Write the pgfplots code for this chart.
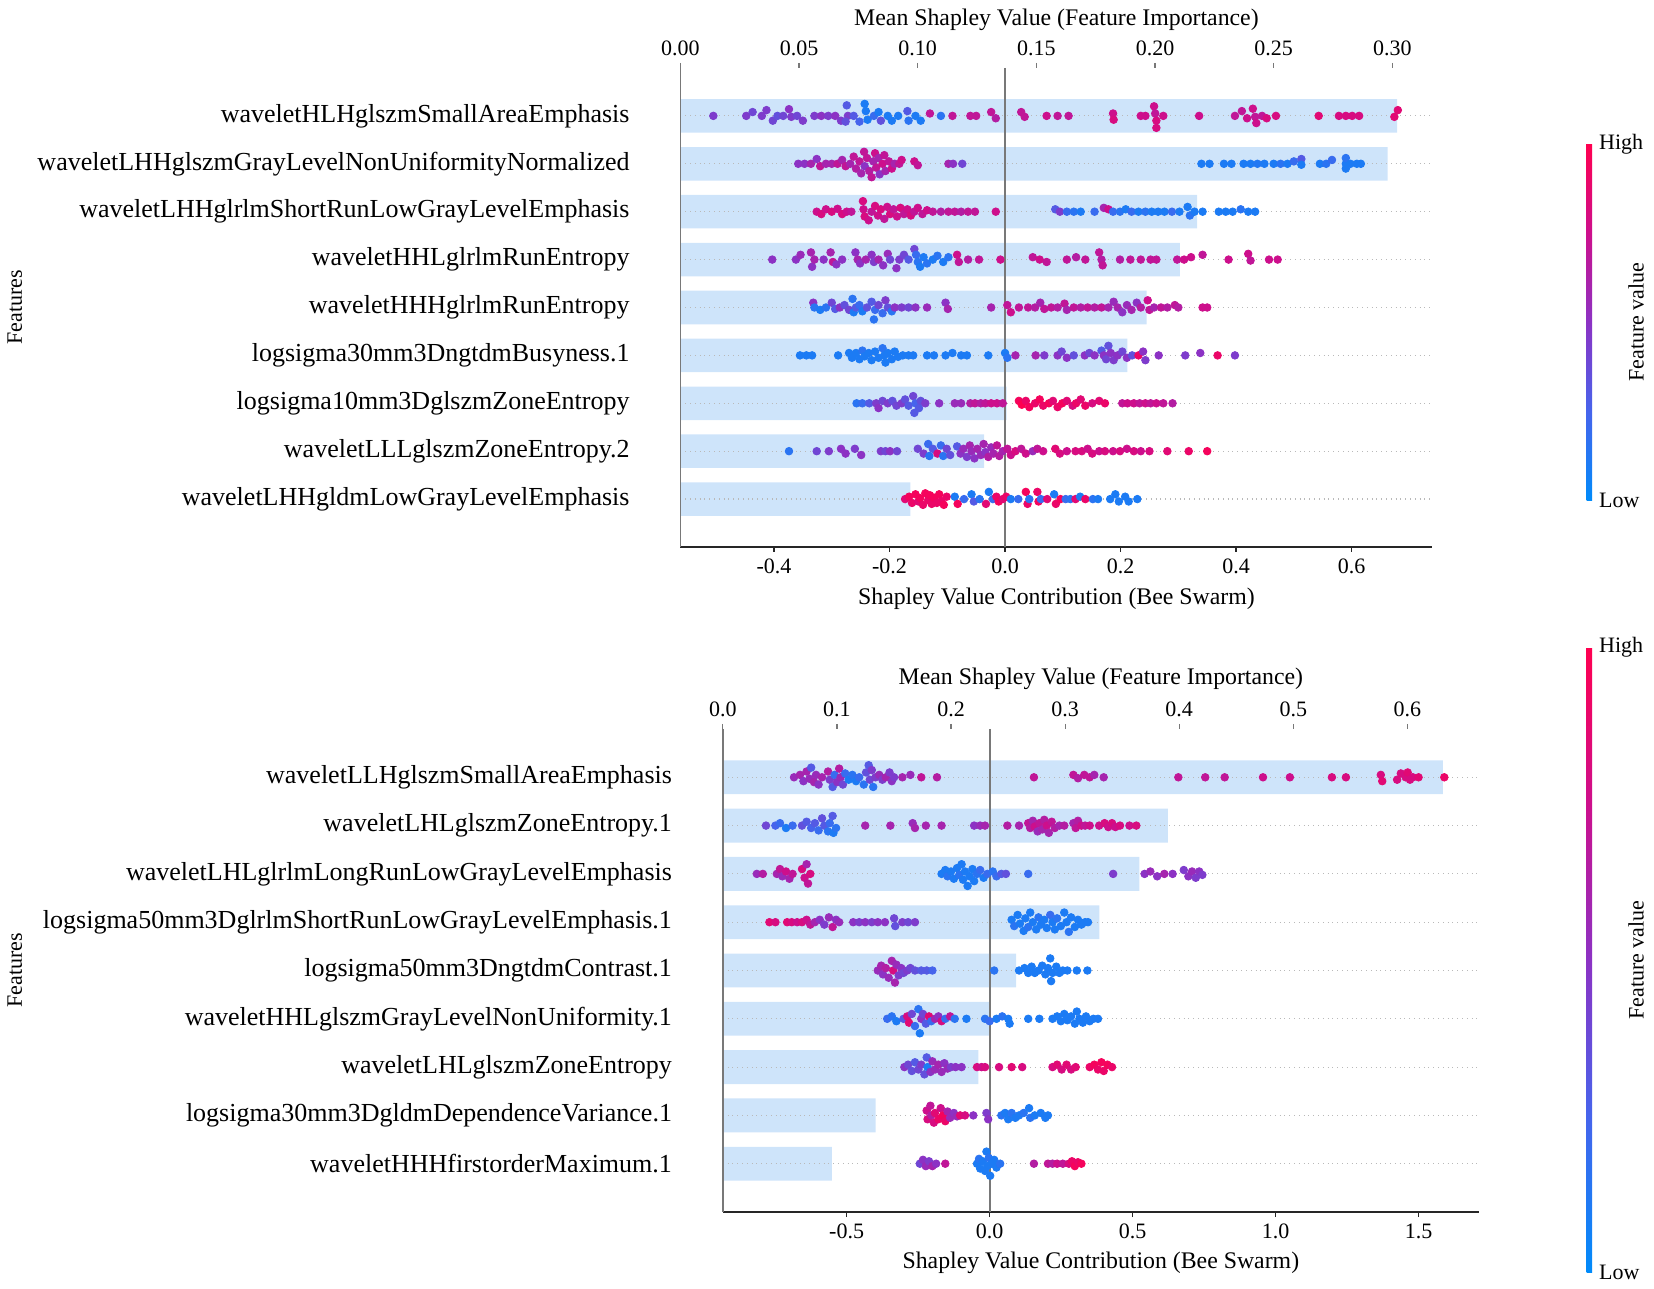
\documentclass[border=0pt]{standalone}
\usepackage{pgfplots}
\pgfplotsset{compat=1.18}
\usepackage{pgfplotstable}
\usepackage{fontspec}
\setmainfont{Liberation Serif}

\definecolor{barblue}{RGB}{206,228,250}
\definecolor{spinegray}{RGB}{120,120,120}
\definecolor{gridgray}{RGB}{185,185,185}
\newcommand{\ticksize}{\fontsize{11}{13}\selectfont}
\newcommand{\labsize}{\fontsize{11.9}{14}\selectfont}
\newcommand{\catsize}{\fontsize{13}{15}\selectfont}

\pgfplotsset{
  colormap={shap}{rgb255(0)=(0,139,250) rgb255(0.25)=(70,100,236) rgb255(0.5)=(140,50,196) rgb255(0.75)=(205,15,140) rgb255(1)=(255,0,80)},
  /pgf/number format/assume math mode=true,
  barax/.style={scale only axis, ymin=0, ymax=10, y dir=reverse,
    axis x line*=top, axis y line=none, x axis line style={draw=none},
    xtick style={spinegray, line width=0.6pt}, tick align=outside, major tick length=2.5pt,
    ytick=\empty, xticklabel style={font=\ticksize},
    xlabel style={at={(axis description cs:0.5,1)}, anchor=center, font=\labsize}},
  swarmax/.style={scale only axis, ymin=0, ymax=10, y dir=reverse,
    axis x line*=bottom, axis y line*=left,
    x axis line style={black!85, line width=1pt, -},
    y axis line style={spinegray, line width=0.9pt, -},
    ytick={1,2,3,4,5,6,7,8,9}, ytick style={draw=none},
    xtick style={black!85, line width=0.7pt}, tick align=outside, major tick length=2.5pt,
    xticklabel style={font=\ticksize},
    yticklabel style={font=\catsize, xshift=-19.4pt},
    ymajorgrids, grid style={gridgray, dotted, line width=0.6pt},
    xlabel style={at={(axis description cs:0.5,0)}, anchor=center, font=\labsize},
    point meta min=0, point meta max=1, colormap name=shap},
  dots/.style={scatter, only marks, mark=*, mark size=1.9pt, scatter src=explicit,
    scatter/use mapped color={draw=mapped color, fill=mapped color}},
}

\pgfplotstableread[row sep=\\]{
x y c\\
-0.505 1 .45\\ -0.448 1 .45\\ -0.437 0.92 .4\\ -0.421 1 .45\\ -0.413 0.88 .45\\ -0.402 1.1 .4\\ -0.394 1 .35\\ -0.384 1 .4\\ -0.374 0.86 .5\\ -0.37 1.02 .45\\ -0.36 1 .4\\ -0.35 1.1 .45\\ -0.33 1 .45\\ -0.318 1 .5\\ -0.306 1 .45\\ -0.294 1 .5\\ -0.284 1.1 .45\\ -0.274 0.78 .3\\ -0.272 1 .45\\ -0.276 1.12 .35\\ -0.262 1 .3\\ -0.252 1.12 .25\\ -0.243 0.75 .1\\ -0.241 0.9 .1\\ -0.238 1.08 .1\\ -0.227 1 .2\\ -0.219 0.92 .1\\ -0.215 1.1 .35\\ -0.203 1 .1\\ -0.196 1.1 .1\\ -0.185 1 .1\\ -0.169 0.9 .3\\ -0.167 1.1 .15\\ -0.155 1 .1\\ -0.146 1.1 .1\\ -0.13 0.95 .7\\ -0.111 1 .15\\ -0.091 1 .7\\ -0.06 1 .7\\ -0.05 1 .7\\ -0.024 0.92 .7\\ -0.016 1.05 .65\\ 0.028 0.92 .7\\ 0.034 1.02 .7\\ 0.072 1 .75\\ 0.091 1 .7\\ 0.11 1 .7\\ 0.187 0.95 .75\\ 0.188 1.08 .8\\ 0.235 1 .75\\ 0.243 1 .75\\ 0.258 0.8 .75\\ 0.26 0.95 .7\\ 0.262 1.1 .8\\ 0.262 1.25 .8\\ 0.274 1 .75\\ 0.336 1 .75\\ 0.398 1 .7\\ 0.41 0.9 .7\\ 0.419 1.05 .75\\ 0.429 0.85 .75\\ 0.433 1.02 .7\\ 0.435 1.15 .75\\ 0.445 1 .7\\ 0.453 1.05 .8\\ 0.469 1 .8\\ 0.543 1 .85\\ 0.578 1 .8\\ 0.59 1 .8\\ 0.601 1 .8\\ 0.613 1 .8\\ 0.674 1.02 .85\\ 0.68 0.88 .85\\
-0.358 2 .5\\ -0.347 2 .5\\ -0.336 2 .6\\ -0.326 1.9 .5\\ -0.32 2.05 .7\\ -0.31 2 .6\\ -0.3 2 .6\\ -0.29 2 .7\\ -0.282 1.92 .6\\ -0.276 2.05 .7\\ -0.268 2 .6\\ -0.262 1.85 .7\\ -0.258 2.1 .65\\ -0.252 1.95 .7\\ -0.249 2.2 .6\\ -0.244 1.75 .7\\ -0.243 2.05 .5\\ -0.239 1.88 .7\\ -0.235 2.15 .65\\ -0.231 2.28 .7\\ -0.228 1.95 .6\\ -0.225 1.78 .75\\ -0.223 2.08 .7\\ -0.219 1.88 .6\\ -0.217 2.22 .5\\ -0.212 2 .75\\ -0.209 1.82 .7\\ -0.207 2.15 .6\\ -0.201 1.95 .7\\ -0.196 2.1 .75\\ -0.191 2 .6\\ -0.183 2 .7\\ -0.179 1.92 .75\\ -0.157 1.95 .75\\ -0.151 2.03 .7\\ -0.098 2 .6\\ -0.09 2 .5\\ -0.074 2 .4\\ 0.34 2 .1\\ 0.354 2 .1\\ 0.379 2 .1\\ 0.392 2 .1\\ 0.413 2 .1\\ 0.425 2 .1\\ 0.437 2 .12\\ 0.449 2 .1\\ 0.465 2 .1\\ 0.477 2 .15\\ 0.489 2 .1\\ 0.5 1.95 .2\\ 0.513 1.9 .3\\ 0.513 2.02 .1\\ 0.545 2 .1\\ 0.556 2 .15\\ 0.566 1.92 .2\\ 0.59 2 .1\\ 0.59 1.88 .15\\ 0.59 2.1 .1\\ 0.598 2 .1\\ 0.609 2 .1\\ 0.616 2 .1\\
-0.326 3 .75\\ -0.318 3.05 .8\\ -0.31 2.95 .75\\ -0.3 3 .8\\ -0.29 2.94 .75\\ -0.282 3.05 .8\\ -0.274 3 .75\\ -0.266 3 .7\\ -0.246 2.78 .8\\ -0.245 2.95 .75\\ -0.243 3.1 .8\\ -0.236 3.18 .75\\ -0.231 3 .7\\ -0.225 2.88 .8\\ -0.22 3.08 .75\\ -0.215 2.95 .8\\ -0.209 3.15 .7\\ -0.204 2.9 .75\\ -0.199 3.05 .8\\ -0.193 2.95 .7\\ -0.187 3.1 .75\\ -0.181 2.92 .8\\ -0.175 3.05 .7\\ -0.169 2.95 .75\\ -0.163 3.08 .8\\ -0.157 3 .7\\ -0.151 2.92 .75\\ -0.143 3.05 .7\\ -0.135 2.97 .75\\ -0.125 3 .7\\ -0.111 3 .65\\ -0.098 3 .7\\ -0.087 3 .7\\ -0.076 3 .65\\ -0.064 3 .7\\ -0.052 3 .7\\ -0.016 3 .75\\ 0.087 2.95 .3\\ 0.095 3 .45\\ 0.107 3 .2\\ 0.119 3 .15\\ 0.131 3 .1\\ 0.155 3 .2\\ 0.171 2.92 .6\\ 0.179 2.95 .75\\ 0.187 3 .2\\ 0.199 3 .15\\ 0.209 2.95 .1\\ 0.219 3 .2\\ 0.231 3 .1\\ 0.243 3 .15\\ 0.254 3 .1\\ 0.265 3 .1\\ 0.276 3 .1\\ 0.289 3 .2\\ 0.302 3 .1\\ 0.316 2.9 .1\\ 0.32 3.08 .15\\ 0.328 3 .1\\ 0.342 3 .1\\ 0.37 3 .1\\ 0.382 3 .1\\ 0.394 3 .1\\ 0.408 2.95 .15\\ 0.421 3 .1\\ 0.433 3 .1\\
-0.403 4 .5\\ -0.362 4 .5\\ -0.354 3.9 .55\\ -0.336 3.85 .6\\ -0.334 4.15 .5\\ -0.33 4 .6\\ -0.314 4 .5\\ -0.302 3.85 .6\\ -0.298 4.05 .7\\ -0.292 4.1 .5\\ -0.282 4 .5\\ -0.259 3.85 .5\\ -0.255 4 .6\\ -0.251 4.08 .5\\ -0.241 4 .6\\ -0.231 3.9 .5\\ -0.227 4.05 .45\\ -0.219 4 .6\\ -0.211 4.12 .5\\ -0.203 3.88 .55\\ -0.199 4 .4\\ -0.188 4.18 .5\\ -0.183 4 .45\\ -0.175 3.9 .4\\ -0.167 4 .3\\ -0.157 3.78 .4\\ -0.154 3.9 .2\\ -0.151 4.05 .15\\ -0.147 4.15 .1\\ -0.141 3.95 .1\\ -0.135 4.08 .15\\ -0.125 4 .1\\ -0.117 3.92 .15\\ -0.107 4.05 .1\\ -0.098 3.95 .15\\ -0.083 3.9 .75\\ -0.08 4.05 .7\\ -0.064 4 .65\\ -0.045 4 .7\\ -0.008 4 .75\\ 0.048 3.95 .7\\ 0.06 4 .75\\ 0.072 4.05 .7\\ 0.107 4 .7\\ 0.123 3.95 .65\\ 0.139 4 .7\\ 0.163 3.85 .7\\ 0.167 4 .65\\ 0.169 4.12 .7\\ 0.199 4 .65\\ 0.217 4 .7\\ 0.235 4 .7\\ 0.252 4 .7\\ 0.262 4 .7\\ 0.298 4 .7\\ 0.31 4 .75\\ 0.322 3.95 .75\\ 0.342 3.9 .7\\ 0.387 4 .75\\ 0.421 3.88 .75\\ 0.425 4.02 .7\\ 0.457 4 .75\\ 0.472 4 .75\\
-0.332 4.9 .5\\ -0.33 5 .15\\ -0.32 5.05 .1\\ -0.31 5 .15\\ -0.3 4.9 .4\\ -0.294 5.03 .3\\ -0.286 5 .5\\ -0.278 4.95 .35\\ -0.27 5.05 .4\\ -0.264 4.82 .15\\ -0.262 5.1 .1\\ -0.258 5 .3\\ -0.252 4.95 .2\\ -0.247 5.08 .1\\ -0.239 5 .35\\ -0.231 4.88 .3\\ -0.227 5.25 .15\\ -0.225 5.05 .2\\ -0.219 4.95 .4\\ -0.212 5.12 .2\\ -0.207 4.85 .45\\ -0.203 5 .35\\ -0.196 5.08 .15\\ -0.191 5 .5\\ -0.179 5 .45\\ -0.167 5 .4\\ -0.155 5 .5\\ -0.135 5 .55\\ -0.103 4.9 .5\\ -0.099 5.03 .6\\ -0.024 5 .6\\ 0.004 4.95 .7\\ 0.01 5.1 .75\\ 0.024 5 .7\\ 0.04 5 .7\\ 0.052 5 .65\\ 0.061 4.9 .6\\ 0.068 5.03 .7\\ 0.08 5 .7\\ 0.091 5 .65\\ 0.103 4.92 .7\\ 0.107 5.05 .6\\ 0.119 5 .7\\ 0.131 5 .65\\ 0.143 5 .7\\ 0.155 5 .65\\ 0.167 5 .7\\ 0.179 5 .6\\ 0.188 4.88 .55\\ 0.195 5 .6\\ 0.203 5.1 .5\\ 0.211 4.95 .55\\ 0.219 5.05 .6\\ 0.228 4.9 .5\\ 0.235 5 .65\\ 0.247 4.85 .75\\ 0.25 5.05 .7\\ 0.258 5 .6\\ 0.27 5 .7\\ 0.281 5 .65\\ 0.294 4.95 .7\\ 0.3 5 .65\\ 0.342 5 .75\\ 0.35 5 .75\\
-0.355 6 .1\\ -0.344 6 .1\\ -0.334 6 .1\\ -0.289 6 .1\\ -0.27 5.95 .1\\ -0.265 6.05 .1\\ -0.258 5.95 .1\\ -0.252 6.08 .1\\ -0.247 5.9 .15\\ -0.243 6.02 .1\\ -0.236 5.95 .1\\ -0.231 6.1 .1\\ -0.225 5.92 .1\\ -0.219 6.05 .1\\ -0.212 5.85 .15\\ -0.209 6 .1\\ -0.207 6.15 .1\\ -0.203 5.95 .1\\ -0.196 6.08 .1\\ -0.191 5.92 .1\\ -0.185 6.03 .1\\ -0.177 6 .1\\ -0.167 6 .1\\ -0.159 6 .1\\ -0.135 6 .1\\ -0.123 6 .1\\ -0.103 6 .1\\ -0.091 5.95 .1\\ -0.076 6 .1\\ -0.066 6 .1\\ -0.029 6 .1\\ 0 5.95 .1\\ 0.004 6.05 .15\\ 0.018 6 .6\\ 0.053 6 .6\\ 0.068 6 .45\\ 0.091 6 .5\\ 0.098 5.92 .4\\ 0.107 6.05 .5\\ 0.119 6 .35\\ 0.138 6 .5\\ 0.146 5.95 .4\\ 0.155 6 .5\\ 0.167 5.9 .3\\ 0.171 6 .5\\ 0.175 6.08 .4\\ 0.179 5.8 .35\\ 0.183 5.95 .5\\ 0.188 6.1 .45\\ 0.195 6 .5\\ 0.203 5.92 .4\\ 0.211 6.05 .5\\ 0.22 6 .35\\ 0.231 6 .9\\ 0.239 5.92 .5\\ 0.243 6.1 .45\\ 0.266 6 .5\\ 0.312 6 .45\\ 0.338 5.95 .5\\ 0.368 6 .9\\ 0.398 6 .45\\
-0.257 7 .15\\ -0.247 7 .2\\ -0.235 7 .3\\ -0.223 7 .45\\ -0.219 7.1 .5\\ -0.212 6.95 .4\\ -0.203 7 .45\\ -0.195 6.95 .35\\ -0.188 7.05 .4\\ -0.179 7 .45\\ -0.173 6.92 .35\\ -0.167 7.05 .3\\ -0.159 6.85 .4\\ -0.157 7.2 .3\\ -0.155 7 .25\\ -0.149 7.1 .3\\ -0.146 6.95 .35\\ -0.138 7 .45\\ -0.114 7 .5\\ -0.087 7 .55\\ -0.076 7 .55\\ -0.06 7 .65\\ -0.052 7 .7\\ -0.042 7 .65\\ -0.034 7 .7\\ -0.024 7 .75\\ -0.014 7 .75\\ -0.004 7 .7\\ 0.024 6.95 .95\\ 0.029 7.03 1\\ 0.036 6.95 .9\\ 0.042 7.08 .95\\ 0.052 7 .9\\ 0.06 6.92 .95\\ 0.066 7.05 .9\\ 0.076 7 .95\\ 0.083 6.95 .85\\ 0.091 7.08 .9\\ 0.099 7 .95\\ 0.107 6.95 .85\\ 0.117 7.05 .8\\ 0.123 7 .9\\ 0.131 6.92 .85\\ 0.139 7.05 .9\\ 0.151 7 .8\\ 0.163 6.95 .85\\ 0.173 7 .9\\ 0.203 7 .7\\ 0.212 7 .75\\ 0.223 7 .75\\ 0.233 7 .7\\ 0.243 7 .75\\ 0.252 7 .7\\ 0.262 7 .75\\ 0.274 7 .7\\ 0.29 7 .65\\
-0.374 8 .15\\ -0.326 8 .4\\ -0.305 8 .45\\ -0.284 7.95 .5\\ -0.276 8.05 .5\\ -0.26 7.95 .45\\ -0.249 8.08 .5\\ -0.215 8 .45\\ -0.207 8 .4\\ -0.199 8 .5\\ -0.187 8 .4\\ -0.151 7.95 .4\\ -0.141 8.05 .45\\ -0.133 7.85 .2\\ -0.131 8.1 .15\\ -0.125 7.95 .3\\ -0.117 8.05 .8\\ -0.111 7.88 .2\\ -0.107 8.1 .15\\ -0.101 7.95 .4\\ -0.095 8.08 .35\\ -0.083 7.9 .3\\ -0.077 8.05 .5\\ -0.072 7.95 .55\\ -0.066 8.12 .45\\ -0.061 7.88 .6\\ -0.058 8 .55\\ -0.053 8.15 .5\\ -0.048 7.95 .6\\ -0.042 8.08 .55\\ -0.037 7.85 .6\\ -0.034 8.02 .5\\ -0.029 8.12 .65\\ -0.024 7.92 .55\\ -0.02 8.05 .6\\ -0.014 7.88 .7\\ -0.01 8.1 .65\\ -0.004 8 .6\\ 0.004 7.95 .7\\ 0.01 8.08 .75\\ 0.018 8 .8\\ 0.028 7.95 .7\\ 0.036 8.05 .75\\ 0.048 8 .55\\ 0.056 7.95 .7\\ 0.066 8 .75\\ 0.087 7.95 .85\\ 0.095 8.05 .8\\ 0.107 8 .75\\ 0.122 8 .8\\ 0.133 8 .8\\ 0.143 7.95 .75\\ 0.151 8.05 .8\\ 0.163 8 .75\\ 0.173 8 .8\\ 0.187 8 .75\\ 0.199 8 .8\\ 0.211 7.95 .75\\ 0.223 8 .8\\ 0.235 8 .75\\ 0.25 8 .8\\ 0.281 8 .85\\ 0.318 8 .9\\ 0.35 8 .95\\
-0.173 9 .85\\ -0.166 8.95 .95\\ -0.161 9.08 .9\\ -0.155 8.9 .95\\ -0.15 9.05 .85\\ -0.147 8.98 .95\\ -0.142 9.12 .9\\ -0.138 8.88 .95\\ -0.133 9.02 .9\\ -0.13 8.92 .95\\ -0.127 9.1 .9\\ -0.123 8.97 .95\\ -0.118 9.08 .9\\ -0.114 8.9 .95\\ -0.11 9.04 .9\\ -0.106 9.12 .95\\ -0.101 8.95 .9\\ -0.087 8.95 .1\\ -0.082 9.1 .95\\ -0.071 9 .2\\ -0.058 8.9 .1\\ -0.054 9.05 .3\\ -0.044 9 .15\\ -0.033 9.1 .85\\ -0.028 8.85 .1\\ -0.021 9 .2\\ -0.015 8.95 .9\\ -0.011 9.05 .95\\ -0.004 9 .85\\ 0.002 8.95 .9\\ 0.01 9 .1\\ 0.023 9 .2\\ 0.036 8.85 .95\\ 0.039 9.1 .9\\ 0.042 9 .15\\ 0.056 8.85 .9\\ 0.058 9.05 .95\\ 0.062 9 .2\\ 0.073 9 .85\\ 0.085 8.9 .1\\ 0.088 9.1 .9\\ 0.096 9 .95\\ 0.105 9 .2\\ 0.113 9 .15\\ 0.122 9 .85\\ 0.13 8.95 .1\\ 0.139 9 .9\\ 0.152 9 .15\\ 0.161 9 .1\\ 0.182 9 .1\\ 0.191 8.9 .1\\ 0.197 9.05 .1\\ 0.208 8.95 .1\\ 0.214 9.05 .1\\ 0.229 9 .1\\
}\topswarm

\pgfplotstableread[row sep=\\]{
x y c\\
-0.684 1 .55\\ -0.663 0.95 .6\\ -0.651 1.08 .5\\ -0.64 0.88 .6\\ -0.63 1.03 .55\\ -0.624 0.8 .3\\ -0.614 1.1 .6\\ -0.607 0.95 .55\\ -0.598 1.15 .5\\ -0.586 1 .6\\ -0.565 0.88 .65\\ -0.559 1.05 .45\\ -0.549 1.2 .3\\ -0.542 0.95 .2\\ -0.533 1.1 .5\\ -0.526 0.82 .65\\ -0.521 1 .55\\ -0.513 1.15 .4\\ -0.505 0.92 .2\\ -0.493 1.05 .1\\ -0.48 0.95 .15\\ -0.467 1.08 .1\\ -0.456 1 .2\\ -0.44 1.15 .15\\ -0.432 0.9 .35\\ -0.423 0.75 .3\\ -0.419 1.05 .4\\ -0.412 0.85 .45\\ -0.407 1.2 .15\\ -0.399 1 .45\\ -0.386 0.95 .55\\ -0.375 1.05 .45\\ -0.363 1 .6\\ -0.35 0.9 .45\\ -0.342 1.08 .5\\ -0.334 1 .45\\ -0.305 1 .6\\ -0.277 0.95 .55\\ -0.239 1 .7\\ -0.184 1 .65\\ 0.155 1 .7\\ 0.293 0.95 .7\\ 0.309 1.02 .65\\ 0.331 0.95 .7\\ 0.35 1 .7\\ 0.366 0.95 .6\\ 0.399 1 .6\\ 0.66 1 .7\\ 0.754 1 .7\\ 0.822 1 .7\\ 0.956 1 .75\\ 1.05 1 .75\\ 1.197 1 .8\\ 1.246 1 .8\\ 1.368 0.95 .8\\ 1.373 1.08 .85\\ 1.425 1.05 .8\\ 1.438 0.92 .8\\ 1.455 1 .8\\ 1.462 0.9 .85\\ 1.47 1.05 .8\\ 1.48 1 .8\\ 1.5 1 .85\\ 1.59 1 .9\\
-0.782 2 .4\\ -0.749 2 .25\\ -0.733 1.95 .2\\ -0.712 2.05 .1\\ -0.689 2 .2\\ -0.656 2 .35\\ -0.64 1.92 .3\\ -0.624 2.05 .25\\ -0.611 1.95 .3\\ -0.598 2.1 .2\\ -0.586 1.85 .35\\ -0.578 2 .3\\ -0.565 2.12 .15\\ -0.559 1.95 .2\\ -0.549 1.8 .3\\ -0.546 2.15 .1\\ -0.537 2.05 .15\\ -0.435 2 .6\\ -0.347 2 .6\\ -0.269 1.95 .55\\ -0.261 2.05 .6\\ -0.223 2 .6\\ -0.168 2 .6\\ -0.054 2 .5\\ -0.033 2 .55\\ -0.016 2 .6\\ 0.062 2 .65\\ 0.103 2 .6\\ 0.135 1.95 .7\\ 0.142 2.05 .65\\ 0.151 1.9 .6\\ 0.158 2.02 .75\\ 0.168 2.12 .55\\ 0.174 1.95 .7\\ 0.184 2.08 .6\\ 0.191 1.88 .65\\ 0.2 2 .75\\ 0.207 2.15 .6\\ 0.217 1.92 .7\\ 0.228 2.05 .65\\ 0.244 2 .6\\ 0.261 2 .65\\ 0.293 1.95 .6\\ 0.301 2.05 .7\\ 0.309 1.9 .65\\ 0.321 2 .75\\ 0.334 2 .7\\ 0.35 2 .75\\ 0.383 2 .75\\ 0.402 1.95 .8\\ 0.415 2.03 .75\\ 0.428 1.95 .8\\ 0.44 2.03 .75\\ 0.456 2 .8\\ 0.489 2 .75\\ 0.513 2 .8\\
-0.814 3 .55\\ -0.793 3 .65\\ -0.744 3 .6\\ -0.733 2.9 .7\\ -0.725 3.05 .55\\ -0.712 2.95 .75\\ -0.7 3.1 .6\\ -0.689 3 .7\\ -0.656 2.9 .8\\ -0.647 3.08 .75\\ -0.64 2.8 .6\\ -0.635 3.2 .7\\ -0.627 3 .8\\ -0.168 3 .1\\ -0.155 2.92 .1\\ -0.147 3.05 .15\\ -0.135 2.95 .1\\ -0.125 3.1 .1\\ -0.114 2.88 .1\\ -0.106 3.02 .15\\ -0.098 2.8 .1\\ -0.093 3.12 .1\\ -0.086 2.95 .1\\ -0.077 3.25 .1\\ -0.07 3.05 .1\\ -0.06 2.9 .1\\ -0.054 3.15 .1\\ -0.044 3 .15\\ -0.033 2.92 .2\\ -0.021 3.08 .1\\ -0.008 3 .2\\ 0.011 2.95 .15\\ 0.024 3.05 .2\\ 0.041 3 .3\\ 0.057 3 .35\\ 0.135 3 .2\\ 0.432 3 .45\\ 0.542 3 .5\\ 0.562 2.95 .55\\ 0.586 3.05 .5\\ 0.611 3 .6\\ 0.64 3 .5\\ 0.679 2.92 .45\\ 0.695 3.05 .5\\ 0.708 2.95 .55\\ 0.721 3.08 .45\\ 0.733 2.95 .5\\ 0.744 3.02 .45\\
-0.77 4 .85\\ -0.749 4 .8\\ -0.708 4 .85\\ -0.692 4 .8\\ -0.673 4 .75\\ -0.656 4 .8\\ -0.64 3.95 .75\\ -0.627 4.05 .7\\ -0.611 4 .6\\ -0.594 3.95 .5\\ -0.578 4.05 .45\\ -0.562 3.9 .55\\ -0.549 4.1 .7\\ -0.537 3.95 .5\\ -0.526 4 .55\\ -0.477 4 .5\\ -0.456 4 .45\\ -0.435 4 .5\\ -0.412 4 .45\\ -0.391 4 .5\\ -0.366 4 .5\\ -0.334 3.92 .4\\ -0.33 4.08 .35\\ -0.305 4 .45\\ -0.285 4 .4\\ -0.261 4 .45\\ 0.077 3.95 .1\\ 0.086 4.08 .15\\ 0.098 3.85 .1\\ 0.106 4.03 .1\\ 0.119 4.18 .1\\ 0.125 3.92 .1\\ 0.135 4.1 .15\\ 0.142 3.8 .1\\ 0.151 4 .1\\ 0.163 4.15 .1\\ 0.171 3.9 .15\\ 0.179 4.05 .1\\ 0.191 3.95 .1\\ 0.2 4.12 .1\\ 0.212 3.85 .2\\ 0.22 4 .1\\ 0.228 4.15 .1\\ 0.236 3.92 .15\\ 0.249 4.08 .1\\ 0.261 3.8 .1\\ 0.269 4 .1\\ 0.277 4.2 .15\\ 0.285 3.9 .1\\ 0.298 4.1 .1\\ 0.309 3.95 .1\\ 0.321 4.05 .1\\ 0.334 4 .1\\ 0.344 4 .1\\
-0.391 5 .55\\ -0.379 4.9 .6\\ -0.373 5.08 .5\\ -0.363 4.95 .65\\ -0.353 5.15 .55\\ -0.342 4.8 .6\\ -0.337 5 .8\\ -0.331 5.25 .6\\ -0.326 4.88 .55\\ -0.318 5.1 .45\\ -0.309 4.95 .5\\ -0.301 5.05 .4\\ -0.288 5 .45\\ -0.277 4.95 .4\\ -0.261 5 .35\\ -0.239 5 .3\\ -0.22 5 .3\\ -0.2 5 .25\\ 0.016 5 .15\\ 0.103 5 .1\\ 0.122 4.95 .1\\ 0.135 5.05 .1\\ 0.147 4.92 .1\\ 0.158 5.05 .1\\ 0.171 5 .1\\ 0.184 4.9 .1\\ 0.195 5.08 .1\\ 0.204 4.95 .1\\ 0.212 4.75 .1\\ 0.215 5.22 .1\\ 0.22 5.05 .1\\ 0.233 4.92 .1\\ 0.244 5.05 .1\\ 0.256 5 .1\\ 0.272 5 .1\\ 0.305 5 .1\\ 0.342 5 .1\\
-0.358 6 .2\\ -0.342 5.95 .15\\ -0.326 6.05 .1\\ -0.301 6 .3\\ -0.288 5.95 .8\\ -0.282 6.08 .85\\ -0.272 5.9 .4\\ -0.261 6.15 .2\\ -0.249 5.8 .15\\ -0.244 6.3 .1\\ -0.239 6 .5\\ -0.233 5.9 .4\\ -0.223 6.1 .3\\ -0.212 5.95 .85\\ -0.204 6.05 .2\\ -0.191 6 .6\\ -0.179 5.95 .5\\ -0.168 6.05 .8\\ -0.155 6 .2\\ -0.138 5.95 .7\\ -0.122 6 .15\\ -0.081 6 .1\\ -0.016 6 .15\\ 0 6.05 .2\\ 0.024 6 .1\\ 0.044 5.95 .15\\ 0.065 6 .1\\ 0.07 6.1 .1\\ 0.135 6 .1\\ 0.174 6 .1\\ 0.22 6 .1\\ 0.236 5.95 .1\\ 0.249 6.05 .1\\ 0.261 5.9 .1\\ 0.272 6.03 .1\\ 0.285 5.95 .1\\ 0.298 6.1 .1\\ 0.305 5.85 .1\\ 0.314 6 .1\\ 0.326 6.08 .1\\ 0.337 5.95 .1\\ 0.35 6.05 .1\\ 0.363 6 .1\\ 0.379 6 .1\\
-0.298 7 .5\\ -0.285 6.95 .4\\ -0.272 7.08 .35\\ -0.261 6.9 .3\\ -0.249 7.05 .4\\ -0.239 6.95 .45\\ -0.228 7.15 .35\\ -0.22 6.8 .3\\ -0.217 7 .1\\ -0.207 7.1 .5\\ -0.2 6.88 .55\\ -0.191 7.05 .55\\ -0.179 6.95 .6\\ -0.168 7.1 .55\\ -0.158 6.92 .5\\ -0.147 7.03 .55\\ -0.135 7 .45\\ -0.119 7 .5\\ -0.098 7 .5\\ -0.044 7 .8\\ -0.028 7 .75\\ -0.016 7 .8\\ 0.033 7 .8\\ 0.077 7 .85\\ 0.114 7 .8\\ 0.22 7 .8\\ 0.236 6.95 .85\\ 0.252 7.05 .8\\ 0.269 6.95 .85\\ 0.285 7.05 .8\\ 0.301 7 .85\\ 0.35 7 .9\\ 0.366 6.95 .95\\ 0.379 7.05 .9\\ 0.391 6.9 .95\\ 0.399 7.08 .9\\ 0.412 6.95 .95\\ 0.428 7 .9\\
-0.22 7.9 .75\\ -0.217 8.08 .8\\ -0.207 7.8 .7\\ -0.204 8 .65\\ -0.195 8.15 .8\\ -0.191 7.95 .85\\ -0.179 8.08 .9\\ -0.171 7.85 .75\\ -0.163 8 .95\\ -0.155 8.12 .9\\ -0.147 7.92 .6\\ -0.138 8.05 .55\\ -0.125 7.95 .5\\ -0.114 8.02 .55\\ -0.103 8 .85\\ -0.086 8 .8\\ -0.057 8 .5\\ -0.011 7.95 .45\\ -0.005 8.08 .5\\ 0.041 8 .15\\ 0.054 7.95 .1\\ 0.065 8.08 .1\\ 0.077 7.95 .15\\ 0.09 8.05 .1\\ 0.103 8 .1\\ 0.119 7.95 .15\\ 0.138 7.85 .1\\ 0.142 8.05 .15\\ 0.158 8 .1\\ 0.179 7.95 .1\\ 0.195 8.05 .1\\ 0.204 8 .1\\
-0.244 9 .4\\ -0.233 8.92 .5\\ -0.223 9.05 .55\\ -0.212 8.95 .45\\ -0.2 9.05 .6\\ -0.187 9 .5\\ -0.155 9 .7\\ -0.044 9 .1\\ -0.037 8.9 .15\\ -0.033 9.1 .1\\ -0.024 8.95 .1\\ -0.016 9.15 .1\\ -0.011 8.75 .1\\ -0.008 9.05 .1\\ -0.003 8.88 .15\\ 0.002 9.25 .1\\ 0.008 9 .1\\ 0.016 8.92 .1\\ 0.024 9.08 .1\\ 0.037 9 .15\\ 0.155 9 .65\\ 0.204 9 .7\\ 0.22 9 .65\\ 0.236 9 .75\\ 0.256 9 .7\\ 0.277 9 .8\\ 0.288 8.95 .9\\ 0.298 9.05 .95\\ 0.309 8.97 .9\\ 0.321 9 .95\\
}\botswarm

\begin{document}
\begin{tikzpicture}
\useasboundingbox (0,0) rectangle (827pt,644.5pt);

% ---------------- top panel ----------------
\begin{axis}[barax, at={(340.2pt,371pt)}, anchor=south west,
  width=376.05pt, height=239.5pt, xmin=0, xmax=0.3169,
  xtick={0,0.05,0.1,0.15,0.2,0.25,0.3},
  xticklabel style={/pgf/number format/fixed, /pgf/number format/fixed zerofill, /pgf/number format/precision=2},
  xlabel={Mean Shapley Value (Feature Importance)}, xlabel style={yshift=24pt}]
\addplot[xbar, bar width=0.7, bar shift=0pt, fill=barblue, draw=none]
  coordinates {(0.302,1) (0.298,2) (0.2177,3) (0.2105,4) (0.1964,5) (0.1883,6) (0.1374,7) (0.128,8) (0.0969,9)};
\end{axis}

\begin{axis}[swarmax, at={(340.2pt,371pt)}, anchor=south west,
  width=376.05pt, height=239.5pt, xmin=-0.562, xmax=0.740,
  xtick={-0.4,-0.2,0,0.2,0.4,0.6},
  xticklabel style={/pgf/number format/fixed, /pgf/number format/fixed zerofill, /pgf/number format/precision=1},
  yticklabels={waveletHLHglszmSmallAreaEmphasis, waveletLHHglszmGrayLevelNonUniformityNormalized, waveletLHHglrlmShortRunLowGrayLevelEmphasis, waveletHHLglrlmRunEntropy, waveletHHHglrlmRunEntropy, logsigma30mm3DngtdmBusyness.1, logsigma10mm3DglszmZoneEntropy, waveletLLLglszmZoneEntropy.2, waveletLHHgldmLowGrayLevelEmphasis},
  xlabel={Shapley Value Contribution (Bee Swarm)}, xlabel style={yshift=-26pt},
  colorbar, colorbar style={at={(parent axis.north east)}, anchor=north west,
    xshift=68.5pt, yshift=-38pt, scale only axis, width=2.75pt, height=178.35pt,
    ytick={0,1}, yticklabels={Low,High}, yticklabel style={font=\ticksize},
    axis line style={draw=none}, ytick style={draw=none}, major tick length=0pt}]
\addplot[dots] table[x=x, y=y, meta=c] {\topswarm};
\addplot[spinegray, line width=0.9pt, forget plot] coordinates {(0,0) (0,10)};
\end{axis}

% ---------------- bottom panel ----------------
\begin{axis}[barax, at={(361.4pt,38.5pt)}, anchor=south west,
  width=378.05pt, height=241.5pt, xmin=0, xmax=0.6627,
  xtick={0,0.1,0.2,0.3,0.4,0.5,0.6},
  xticklabel style={/pgf/number format/fixed, /pgf/number format/fixed zerofill, /pgf/number format/precision=1},
  xlabel={Mean Shapley Value (Feature Importance)}, xlabel style={yshift=25pt}]
\addplot[xbar, bar width=0.7, bar shift=0pt, fill=barblue, draw=none]
  coordinates {(0.631,1) (0.390,2) (0.365,3) (0.330,4) (0.257,5) (0.234,6) (0.224,7) (0.134,8) (0.0955,9)};
\end{axis}

\begin{axis}[swarmax, at={(361.4pt,38.5pt)}, anchor=south west,
  width=378.05pt, height=241.5pt, xmin=-0.933, xmax=1.711,
  xtick={-0.5,0,0.5,1,1.5},
  xticklabel style={/pgf/number format/fixed, /pgf/number format/fixed zerofill, /pgf/number format/precision=1},
  yticklabels={waveletLLHglszmSmallAreaEmphasis, waveletLHLglszmZoneEntropy.1, waveletLHLglrlmLongRunLowGrayLevelEmphasis, logsigma50mm3DglrlmShortRunLowGrayLevelEmphasis.1, logsigma50mm3DngtdmContrast.1, waveletHHLglszmGrayLevelNonUniformity.1, waveletLHLglszmZoneEntropy, logsigma30mm3DgldmDependenceVariance.1, waveletHHHfirstorderMaximum.1},
  xlabel={Shapley Value Contribution (Bee Swarm)}, xlabel style={yshift=-25.3pt},
  colorbar, colorbar style={at={(parent axis.north east)}, anchor=north west,
    xshift=45.3pt, yshift=40.7pt, scale only axis, width=2.75pt, height=312.6pt,
    ytick={0,1}, yticklabels={Low,High}, yticklabel style={font=\ticksize},
    axis line style={draw=none}, ytick style={draw=none}, major tick length=0pt}]
\addplot[dots] table[x=x, y=y, meta=c] {\botswarm};
\addplot[spinegray, line width=0.9pt, forget plot] coordinates {(0,0) (0,10)};
\end{axis}

% side labels
\node[rotate=90, font=\ticksize] at (7.4pt,490.75pt) {Features};
\node[rotate=90, font=\ticksize] at (7.4pt,159.25pt) {Features};
\node[rotate=90, font=\ticksize] at (818pt,483.5pt) {Feature value};
\node[rotate=90, font=\ticksize] at (818pt,164.4pt) {Feature value};
\end{tikzpicture}
\end{document}
